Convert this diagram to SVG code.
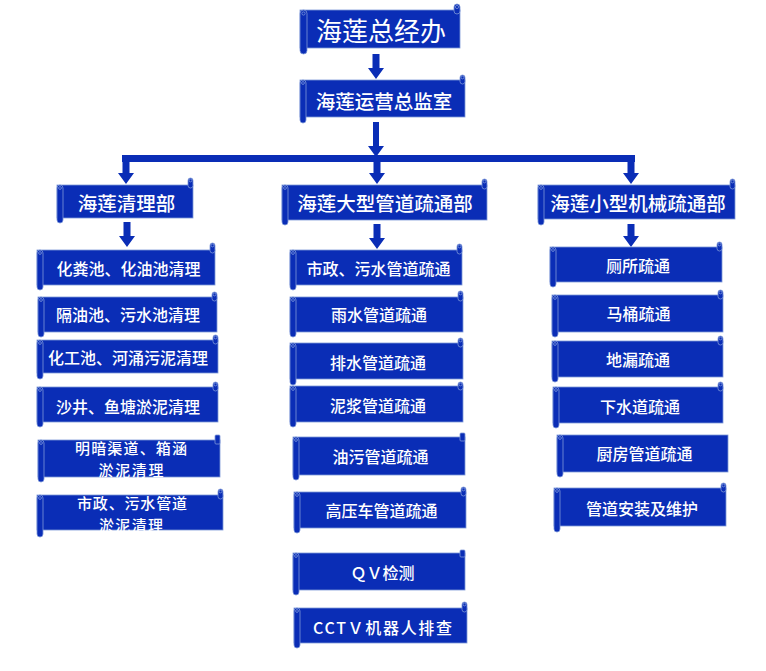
<svg xmlns="http://www.w3.org/2000/svg" width="766" height="671" viewBox="0 0 766 671">
<defs>
<style>
.b{fill:#0a2db6;stroke:#7d98d8;stroke-width:0.8}
.r{fill:#0a2db6;stroke:#7d98d8;stroke-width:0.8}
.c{fill:none;stroke:#8aa3df;stroke-width:0.7}
.a{fill:#0a2db6}
text{fill:#ffffff;font-family:"Noto Sans CJK SC","Noto Sans",sans-serif;text-anchor:middle;dominant-baseline:central}
.t0{font-size:26px;font-weight:400}
.t1{font-size:19.5px;font-weight:500}
.t2{font-size:16px;font-weight:500}
.t3{font-size:15px;font-weight:500}
</style>
</defs>
<rect width="766" height="671" fill="#ffffff"/>
<g id="connectors">
<polygon class="a" points="372.5,54 379.5,54 379.5,68 384,68 376,79 368,68 372.5,68"/>
<polygon class="a" points="373,122 379,122 379,146 384,146 376,157 368,146 373,146"/>
<rect class="a" x="122" y="155" width="513" height="7"/>
<polygon class="a" points="122.5,160 129.5,160 129.5,173 134,173 126,184 118,173 122.5,173"/>
<polygon class="a" points="373.5,160 380.5,160 380.5,173 385,173 377,184 369,173 373.5,173"/>
<polygon class="a" points="627.5,160 634.5,160 634.5,173 639,173 631,184 623,173 627.5,173"/>
<polygon class="a" points="123.5,222 130.5,222 130.5,236 135,236 127,247 119,236 123.5,236"/>
<polygon class="a" points="373.5,224 380.5,224 380.5,238 385,238 377,249 369,238 373.5,238"/>
<polygon class="a" points="627.5,224 634.5,224 634.5,236 639,236 631,247 623,236 627.5,236"/>
</g>
<g id="n-top"><rect class="b" x="300" y="10" width="160" height="38"/><rect class="r" x="300" y="10" width="7" height="44" rx="3.5"/><rect class="r" x="454" y="4" width="6" height="10" rx="3"/><circle class="c" cx="303.5" cy="13.5" r="1.6"/><circle class="c" cx="457" cy="7" r="1.6"/><text class="t0" x="381" y="29">海莲总经办</text></g>
<g id="n-ops"><rect class="b" x="300" y="80" width="165" height="37"/><rect class="r" x="300" y="80" width="6" height="43" rx="3"/><rect class="r" x="460" y="75" width="5" height="9" rx="2.5"/><circle class="c" cx="303" cy="83" r="1.4"/><circle class="c" cx="462.5" cy="77.5" r="1.4"/><text class="t1" x="384" y="100">海莲运营总监室</text></g>
<g id="n-clean"><rect class="b" x="57" y="185" width="136" height="33"/><rect class="r" x="57" y="185" width="6" height="38" rx="3"/><rect class="r" x="188" y="178" width="5" height="10" rx="2.5"/><circle class="c" cx="60" cy="188" r="1.4"/><circle class="c" cx="190.5" cy="180.5" r="1.4"/><text class="t1" x="126.5" y="202">海莲清理部</text></g>
<g id="n-big"><rect class="b" x="282" y="185" width="205" height="35"/><rect class="r" x="282" y="185" width="6" height="40" rx="3"/><rect class="r" x="482" y="179" width="5" height="10" rx="2.5"/><circle class="c" cx="285" cy="188" r="1.4"/><circle class="c" cx="484.5" cy="181.5" r="1.4"/><text class="t1" x="385" y="202">海莲大型管道疏通部</text></g>
<g id="n-small"><rect class="b" x="538" y="185" width="197" height="34"/><rect class="r" x="538" y="185" width="6" height="40" rx="3"/><rect class="r" x="730" y="179" width="5" height="10" rx="2.5"/><circle class="c" cx="541" cy="188" r="1.4"/><circle class="c" cx="732.5" cy="181.5" r="1.4"/><text class="t1" x="638" y="202">海莲小型机械疏通部</text></g>
<g id="n-l1"><rect class="b" x="37" y="250" width="178" height="35"/><rect class="r" x="37" y="250" width="6" height="40" rx="3"/><rect class="r" x="210" y="243" width="5" height="10" rx="2.5"/><circle class="c" cx="40" cy="253" r="1.4"/><circle class="c" cx="212.5" cy="245.5" r="1.4"/><text class="t2" x="128.5" y="268">化粪池、化油池清理</text></g>
<g id="n-l2"><rect class="b" x="38" y="297" width="179" height="35"/><rect class="r" x="38" y="297" width="6" height="40" rx="3"/><rect class="r" x="212" y="292" width="5" height="9" rx="2.5"/><circle class="c" cx="41" cy="300" r="1.4"/><circle class="c" cx="214.5" cy="294.5" r="1.4"/><text class="t2" x="128" y="314">隔油池、污水池清理</text></g>
<g id="n-l3"><rect class="b" x="37" y="340" width="181" height="33"/><rect class="r" x="37" y="340" width="6" height="39" rx="3"/><rect class="r" x="213" y="335" width="5" height="9" rx="2.5"/><circle class="c" cx="40" cy="343" r="1.4"/><circle class="c" cx="215.5" cy="337.5" r="1.4"/><text class="t2" x="128" y="357">化工池、河涌污泥清理</text></g>
<g id="n-l4"><rect class="b" x="37" y="387" width="181" height="35"/><rect class="r" x="37" y="387" width="6" height="40" rx="3"/><rect class="r" x="213" y="382" width="5" height="9" rx="2.5"/><circle class="c" cx="40" cy="390" r="1.4"/><circle class="c" cx="215.5" cy="384.5" r="1.4"/><text class="t2" x="128" y="406">沙井、鱼塘淤泥清理</text></g>
<g id="n-l5"><rect class="b" x="38" y="440" width="182" height="37"/><rect class="r" x="38" y="440" width="6" height="42" rx="3"/><rect class="r" x="215" y="435" width="5" height="9" rx="1"/><circle class="c" cx="41" cy="443" r="1.4"/><text class="t3" x="131" y="447.5" textLength="112" lengthAdjust="spacing">明暗渠道、箱涵</text><text class="t3" x="131" y="469.5" textLength="65" lengthAdjust="spacing">淤泥清理</text></g>
<g id="n-l6"><rect class="b" x="37" y="495" width="186" height="35"/><rect class="r" x="37" y="495" width="6" height="42" rx="3"/><rect class="r" x="218" y="489" width="5" height="10" rx="2.5"/><circle class="c" cx="40" cy="498" r="1.4"/><circle class="c" cx="220.5" cy="491.5" r="1.4"/><text class="t3" x="132" y="502" textLength="110" lengthAdjust="spacing">市政、污水管道</text><text class="t3" x="131" y="524" textLength="64" lengthAdjust="spacing">淤泥清理</text></g>
<g id="n-m1"><rect class="b" x="290" y="250" width="172" height="35"/><rect class="r" x="290" y="250" width="6" height="40" rx="3"/><rect class="r" x="457" y="244" width="5" height="10" rx="2.5"/><circle class="c" cx="293" cy="253" r="1.4"/><circle class="c" cx="459.5" cy="246.5" r="1.4"/><text class="t2" x="378.5" y="268">市政、污水管道疏通</text></g>
<g id="n-m2"><rect class="b" x="290" y="297" width="173" height="35"/><rect class="r" x="290" y="297" width="6" height="40" rx="3"/><rect class="r" x="458" y="291" width="5" height="10" rx="2.5"/><circle class="c" cx="293" cy="300" r="1.4"/><circle class="c" cx="460.5" cy="293.5" r="1.4"/><text class="t2" x="379" y="314">雨水管道疏通</text></g>
<g id="n-m3"><rect class="b" x="290" y="343" width="173" height="36"/><rect class="r" x="290" y="343" width="6" height="42" rx="3"/><rect class="r" x="458" y="338" width="5" height="9" rx="2.5"/><circle class="c" cx="293" cy="346" r="1.4"/><circle class="c" cx="460.5" cy="340.5" r="1.4"/><text class="t2" x="378" y="362">排水管道疏通</text></g>
<g id="n-m4"><rect class="b" x="290" y="386" width="173" height="36"/><rect class="r" x="290" y="386" width="6" height="41" rx="3"/><rect class="r" x="458" y="382" width="5" height="8" rx="2.5"/><circle class="c" cx="293" cy="389" r="1.4"/><circle class="c" cx="460.5" cy="384.5" r="1.4"/><text class="t2" x="378" y="405">泥浆管道疏通</text></g>
<g id="n-m5"><rect class="b" x="293" y="437" width="172" height="38"/><rect class="r" x="293" y="437" width="6" height="43" rx="3"/><rect class="r" x="460" y="433" width="5" height="8" rx="1"/><circle class="c" cx="296" cy="440" r="1.4"/><text class="t2" x="380.5" y="456">油污管道疏通</text></g>
<g id="n-m6"><rect class="b" x="294" y="492" width="172" height="36"/><rect class="r" x="294" y="492" width="6" height="41" rx="3"/><rect class="r" x="461" y="487" width="5" height="9" rx="2.5"/><circle class="c" cx="297" cy="495" r="1.4"/><circle class="c" cx="463.5" cy="489.5" r="1.4"/><text class="t2" x="381.5" y="510">高压车管道疏通</text></g>
<g id="n-m7"><rect class="b" x="293" y="553" width="172" height="37"/><rect class="r" x="293" y="553" width="6" height="42" rx="3"/><rect class="r" x="460" y="550" width="5" height="7" rx="1"/><circle class="c" cx="296" cy="556" r="1.4"/><text class="t2" x="382.5" y="572">ＱＶ检测</text></g>
<g id="n-m8"><rect class="b" x="294" y="608" width="173" height="35"/><rect class="r" x="294" y="608" width="6" height="40" rx="3"/><rect class="r" x="462" y="602" width="5" height="10" rx="2.5"/><circle class="c" cx="297" cy="611" r="1.4"/><circle class="c" cx="464.5" cy="604.5" r="1.4"/><text class="t2" x="382.5" y="627" textLength="139" lengthAdjust="spacing">CCTＶ机器人排查</text></g>
<g id="n-r1"><rect class="b" x="550" y="247" width="172" height="35"/><rect class="r" x="550" y="247" width="6" height="40" rx="3"/><rect class="r" x="717" y="242" width="5" height="9" rx="2.5"/><circle class="c" cx="553" cy="250" r="1.4"/><circle class="c" cx="719.5" cy="244.5" r="1.4"/><text class="t2" x="638" y="265">厕所疏通</text></g>
<g id="n-r2"><rect class="b" x="552" y="295" width="171" height="37"/><rect class="r" x="552" y="295" width="6" height="42" rx="3"/><rect class="r" x="718" y="290" width="5" height="9" rx="2.5"/><circle class="c" cx="555" cy="298" r="1.4"/><circle class="c" cx="720.5" cy="292.5" r="1.4"/><text class="t2" x="638.5" y="313">马桶疏通</text></g>
<g id="n-r3"><rect class="b" x="552" y="341" width="171" height="36"/><rect class="r" x="552" y="341" width="6" height="41" rx="3"/><rect class="r" x="718" y="336" width="5" height="9" rx="2.5"/><circle class="c" cx="555" cy="344" r="1.4"/><circle class="c" cx="720.5" cy="338.5" r="1.4"/><text class="t2" x="638" y="359">地漏疏通</text></g>
<g id="n-r4"><rect class="b" x="553" y="387" width="170" height="36"/><rect class="r" x="553" y="387" width="6" height="41" rx="3"/><rect class="r" x="718" y="382" width="5" height="9" rx="2.5"/><circle class="c" cx="556" cy="390" r="1.4"/><circle class="c" cx="720.5" cy="384.5" r="1.4"/><text class="t2" x="640" y="406">下水道疏通</text></g>
<g id="n-r5"><rect class="b" x="557" y="435" width="171" height="37"/><rect class="r" x="557" y="435" width="6" height="42" rx="3"/><circle class="c" cx="560" cy="438" r="1.4"/><text class="t2" x="644.5" y="453">厨房管道疏通</text></g>
<g id="n-r6"><rect class="b" x="554" y="488" width="172" height="38"/><rect class="r" x="554" y="488" width="6" height="44" rx="3"/><rect class="r" x="721" y="483" width="5" height="9" rx="2.5"/><circle class="c" cx="557" cy="491" r="1.4"/><circle class="c" cx="723.5" cy="485.5" r="1.4"/><text class="t2" x="642" y="508">管道安装及维护</text></g>
</svg>
